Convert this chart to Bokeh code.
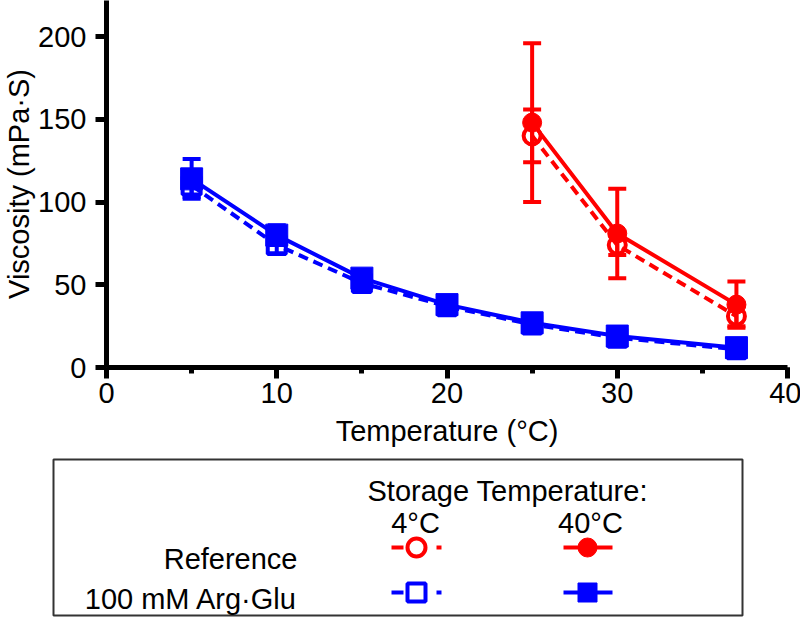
from bokeh.plotting import figure
from bokeh.models import Range1d, SingleIntervalTicker, Whisker, TeeHead, ColumnDataSource
from bokeh.layouts import column
from bokeh.core.properties import value
from bokeh.embed import file_html
from bokeh.resources import INLINE

# ---- data ----
temps_argglu = [5, 10, 15, 20, 25, 30, 37]
argglu_4c = [110, 74, 51, 37, 26, 18, 11]
argglu_4c_err = [7, 5, 3, 2, 2, 1, 1]
argglu_40c = [114, 80, 54, 38, 27, 19, 12]
argglu_40c_err = [12, 6, 4, 3, 2, 2, 1]

temps_ref = [25, 30, 37]
ref_4c = [140, 74, 31]
ref_4c_err = [16, 6, 6]
ref_40c = [148, 81, 38]
ref_40c_err = [48, 27, 14]

x_label = "Temperature (°C)"
y_label = "Viscosity (mPa·S)"
legend_header = "Storage Temperature:"
legend_cols = ["4°C", "40°C"]
legend_rows = ["Reference", "100 mM Arg·Glu"]

RED = "#FF0000"
BLUE = "#0000FF"
FONT = "Liberation Sans"
FS = "29px"

p = figure(frame_width=681, frame_height=367,
           x_range=Range1d(0, 40), y_range=Range1d(0, 221.8),
           output_backend="svg", toolbar_location=None, frame_align=False,
           min_border_left=105, min_border_right=14, min_border_top=0, min_border_bottom=85)
p.outline_line_color = None
p.xgrid.visible = False
p.ygrid.visible = False
p.background_fill_color = "white"
p.border_fill_color = "white"

p.xaxis.ticker = SingleIntervalTicker(interval=10, num_minor_ticks=2)
p.yaxis.ticker = SingleIntervalTicker(interval=50, num_minor_ticks=0)
for ax in (p.xaxis, p.yaxis):
    ax.axis_line_width = 5
    ax.axis_line_color = "black"
    ax.major_tick_line_width = 5
    ax.major_tick_line_color = "black"
    ax.major_tick_in = 0
    ax.major_tick_out = 11
    ax.minor_tick_in = 0
    ax.minor_tick_out = 6
    ax.minor_tick_line_width = 5
    ax.minor_tick_line_color = "black"
    ax.major_label_text_font = FONT
    ax.major_label_text_font_size = FS
    ax.major_label_text_color = "black"
    ax.axis_label_text_font = FONT
    ax.axis_label_text_font_size = FS
    ax.axis_label_text_font_style = "normal"
    ax.axis_label_text_color = "black"
p.yaxis.minor_tick_line_color = None
p.xaxis.major_label_standoff = 4
p.yaxis.major_label_standoff = 9
p.xaxis.axis_label_standoff = 9
p.yaxis.axis_label_standoff = 0
p.xaxis.axis_label = x_label
p.yaxis.axis_label = y_label


def err_source(xs, ys, es):
    return ColumnDataSource(dict(x=xs, lower=[y - e for y, e in zip(ys, es)],
                                 upper=[y + e for y, e in zip(ys, es)]))


def add_whisker(src, color):
    w = Whisker(source=src, base="x", upper="upper", lower="lower", dimension="height",
                line_color=color, line_width=4,
                upper_head=TeeHead(size=18, line_color=color, line_width=4),
                lower_head=TeeHead(size=18, line_color=color, line_width=4))
    p.add_layout(w)


# error bars
add_whisker(err_source(temps_argglu, argglu_4c, argglu_4c_err), BLUE)
add_whisker(err_source(temps_argglu, argglu_40c, argglu_40c_err), BLUE)
add_whisker(err_source(temps_ref, ref_4c, ref_4c_err), RED)
add_whisker(err_source(temps_ref, ref_40c, ref_40c_err), RED)

# lines
p.line(temps_argglu, argglu_4c, line_color=BLUE, line_width=4, line_dash="10 6")
p.line(temps_argglu, argglu_40c, line_color=BLUE, line_width=4)
p.line(temps_ref, ref_4c, line_color=RED, line_width=4, line_dash="10 6")
p.line(temps_ref, ref_40c, line_color=RED, line_width=4)

# markers
p.scatter(temps_argglu, argglu_4c, marker="square", size=18, fill_color=None,
          line_color=BLUE, line_width=4)
p.scatter(temps_argglu, argglu_40c, marker="square", size=22, fill_color=BLUE,
          line_color=BLUE, line_width=1)
p.scatter(temps_ref, ref_4c, marker="circle", size=17, fill_color=None,
          line_color=RED, line_width=4)
p.scatter(temps_ref, ref_40c, marker="circle", size=19, fill_color=RED,
          line_color=RED, line_width=1)

# ---- legend panel (page pixel coordinates) ----
lg = figure(frame_width=800, frame_height=166, x_range=Range1d(0, 800), y_range=Range1d(618, 452),
            output_backend="svg", toolbar_location=None, x_axis_type=None, y_axis_type=None,
            frame_align=False,
            min_border_left=0, min_border_right=0, min_border_top=0, min_border_bottom=0)
lg.outline_line_color = None
lg.xgrid.visible = False
lg.ygrid.visible = False

lg.quad(left=[53], right=[742], top=[459], bottom=[615], fill_color=None,
        line_color="#333333", line_width=2)

lg.text(x=[367], y=[490], text=[legend_header], text_font=value(FONT), text_font_size=FS,
        text_align="left", text_baseline="alphabetic", text_color="black")
lg.text(x=[415, 590], y=[522, 522], text=legend_cols, text_font=value(FONT), text_font_size=FS,
        text_align="center", text_baseline="alphabetic", text_color="black")
lg.text(x=[297, 297], y=[558, 598], text=legend_rows, text_font=value(FONT), text_font_size=FS,
        text_align="right", text_baseline="alphabetic", text_color="black")

row_y = [547, 592]
row_col = [RED, BLUE]
row_marker = ["circle", "square"]
for yy, cc, mk in zip(row_y, row_col, row_marker):
    # 4°C dashed sample
    lg.segment(x0=[391, 436], y0=[yy, yy], x1=[403, 441], y1=[yy, yy], line_color=cc, line_width=4)
    lg.scatter([416], [yy], marker=mk, size=18, fill_color="white", line_color=cc, line_width=4)
    # 40°C solid sample
    lg.segment(x0=[563], y0=[yy], x1=[612], y1=[yy], line_color=cc, line_width=4)
    lg.scatter([587], [yy], marker=mk, size=19, fill_color=cc, line_color=cc, line_width=1)

layout = column(p, lg, spacing=0)
open("out.html", "w").write(file_html(layout, INLINE))
